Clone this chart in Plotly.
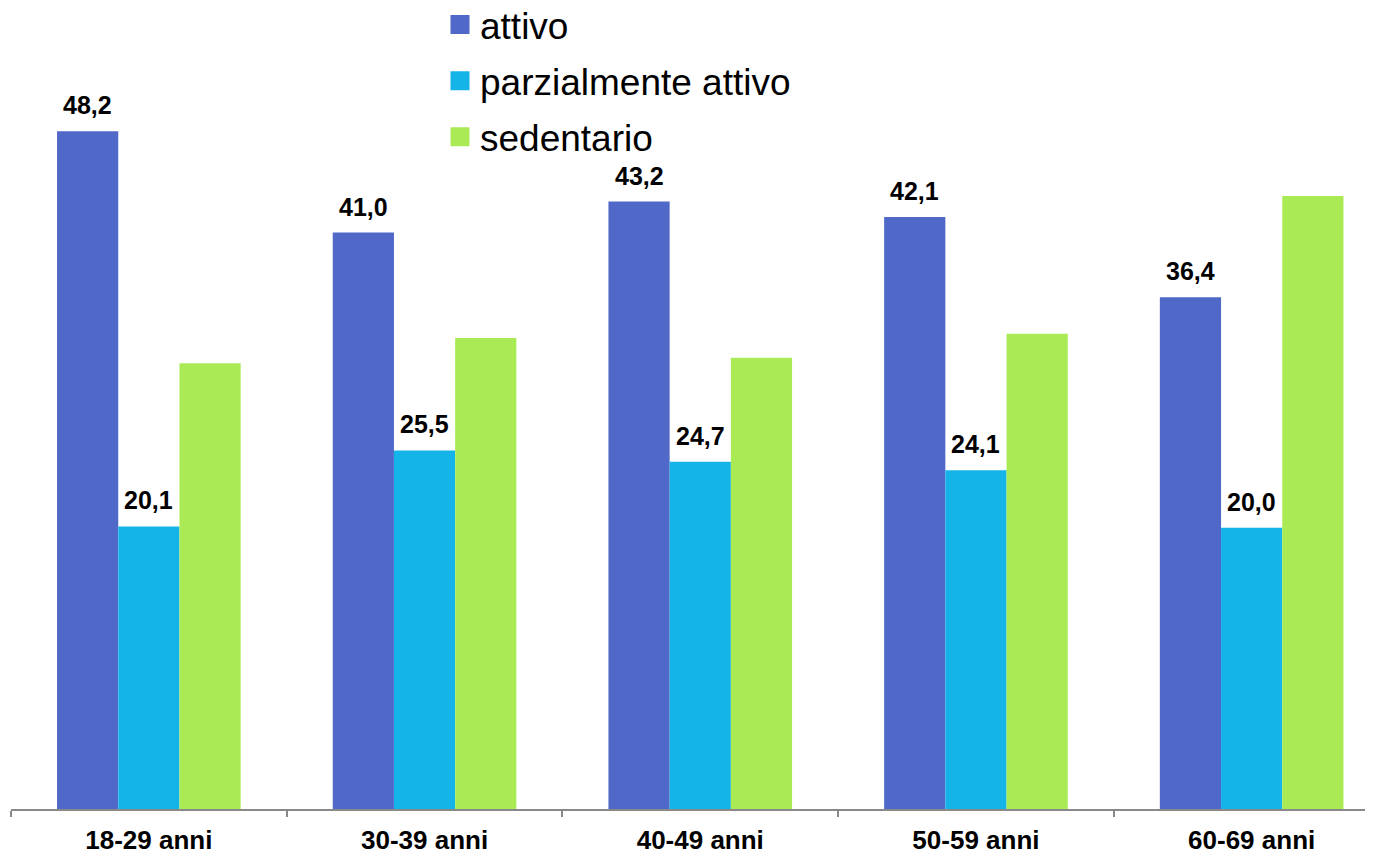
import plotly.graph_objects as go

categories = ["18-29 anni", "30-39 anni", "40-49 anni", "50-59 anni", "60-69 anni"]
series_names = ["attivo", "parzialmente attivo", "sedentario"]
attivo = [48.2, 41.0, 43.2, 42.1, 36.4]
parzialmente_attivo = [20.1, 25.5, 24.7, 24.1, 20.0]
sedentario = [31.7, 33.5, 32.1, 33.8, 43.6]
show_labels = [True, True, False]

colors = ["#5068C8", "#14B4E8", "#AAEB55"]
FONT = "Liberation Sans, Arial, sans-serif"
BARGAP = 0.334

values = [attivo, parzialmente_attivo, sedentario]
fig = go.Figure()

for name, vals, col in zip(series_names, values, colors):
    fig.add_trace(go.Bar(
        x=categories, y=vals, name=name, marker=dict(color=col, line=dict(width=0)),
        showlegend=False, hoverinfo="x+y+name",
    ))

# legend entries (bigger square symbols)
for i, (name, col) in enumerate(zip(series_names, colors)):
    fig.add_trace(go.Scatter(
        x=[None], y=[None], mode="markers", name=name, legendgroup=f"g{i}",
        marker=dict(symbol="square", size=16, color=col, line=dict(color=col, width=3)),
        showlegend=True,
    ))

# value labels above bars
n = len(series_names)
w = (1 - BARGAP) / n
annotations = []
for s, (vals, show) in enumerate(zip(values, show_labels)):
    if not show:
        continue
    off = (s - (n - 1) / 2) * w
    for i, v in enumerate(vals):
        annotations.append(dict(
            x=i + off, y=v, xref="x", yref="y", text=f"{v:.1f}".replace(".", ","),
            showarrow=False, yanchor="middle", yshift=26,
            font=dict(family=FONT, size=25, color="black", weight="bold"),
        ))

PLOT_H = 801
PLOT_W = 1370
fig.update_layout(
    width=1373, height=853,
    margin=dict(l=3, r=0, t=0, b=853 - PLOT_H, autoexpand=False),
    paper_bgcolor="white", plot_bgcolor="white",
    barmode="group", bargap=BARGAP, bargroupgap=0,
    font=dict(family=FONT, color="black"),
    showlegend=True,
    legend=dict(
        xref="paper", yref="paper", x=(432 - 3) / PLOT_W, y=1 + 14 / PLOT_H,
        xanchor="left", yanchor="top", orientation="v",
        font=dict(family=FONT, size=37, color="black"),
        tracegroupgap=5, bgcolor="rgba(0,0,0,0)", itemwidth=30,
    ),
    annotations=annotations,
    xaxis=dict(
        type="category", range=[-0.5, -0.5 + PLOT_W / 275.7], tickson="boundaries", tickangle=0,
        ticks="outside", ticklen=6, tickwidth=1.5, tickcolor="#898989",
        showline=True, linecolor="#898989", linewidth=2,
        showgrid=False, zeroline=False, ticklabelstandoff=7,
        tickfont=dict(family=FONT, size=26, color="black", weight="bold"),
    ),
    yaxis=dict(range=[0, PLOT_H / 14.06], visible=False, showgrid=False, zeroline=False),
)

fig.write_html("out.html")
